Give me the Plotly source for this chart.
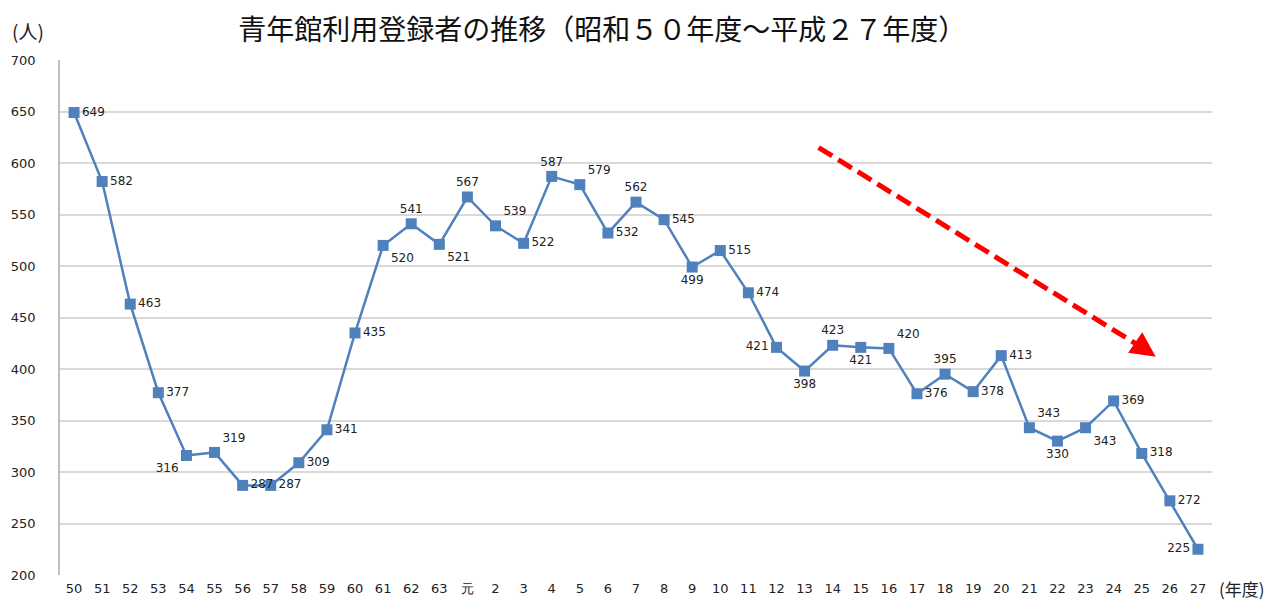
import plotly.graph_objects as go

categories = ["50", "51", "52", "53", "54", "55", "56", "57", "58", "59", "60", "61", "62", "63", "元",
              "2", "3", "4", "5", "6", "7", "8", "9", "10", "11", "12", "13", "14", "15", "16", "17",
              "18", "19", "20", "21", "22", "23", "24", "25", "26", "27"]
values = [649, 582, 463, 377, 316, 319, 287, 287, 309, 341, 435, 520, 541, 521, 567,
          539, 522, 587, 579, 532, 562, 545, 499, 515, 474, 421, 398, 423, 421, 420, 376,
          395, 378, 413, 343, 330, 343, 369, 318, 272, 225]
label_pos = ["middle right", "middle right", "middle right", "middle right", "bottom left",
             "top right", "middle right", "middle right", "middle right", "middle right",
             "middle right", "bottom right", "top center", "bottom right", "top center",
             "top right", "middle right", "top center", "top right", "middle right",
             "top center", "middle right", "bottom center", "middle right", "middle right",
             "middle left", "bottom center", "top center", "bottom center", "top right",
             "middle right", "top center", "middle right", "middle right", "top right",
             "bottom center", "bottom right", "middle right", "middle right", "middle right",
             "middle left"]
y_ticks = [200, 250, 300, 350, 400, 450, 500, 550, 600, 650, 700]

blue = "#4F81BD"

fig = go.Figure()
fig.add_trace(go.Scatter(
    x=categories, y=values, mode="lines+markers+text",
    text=[str(v) for v in values], textposition=label_pos,
    textfont=dict(family="DejaVu Sans", size=12, color="#222222"),
    line=dict(color=blue, width=2.5),
    marker=dict(symbol="square", size=11, color=blue),
    cliponaxis=False, showlegend=False,
))

# red dashed trend arrow (category index coordinates)
fig.add_shape(type="line", xref="x", yref="y", x0=26.5, y0=615, x1=38.0, y1=421,
              line=dict(color="#FF0000", width=5, dash="16px,7px"))

annotations = [
    dict(x=38.5, y=412, xref="x", yref="y", ax=-19, ay=-13, axref="pixel", ayref="pixel",
         showarrow=True, arrowhead=2, arrowsize=1, arrowwidth=5, arrowcolor="#FF0000", text=""),
    dict(text="(人)", xref="paper", yref="paper", x=-0.0434, y=1.058, xanchor="left", yanchor="middle",
         showarrow=False, font=dict(family="Noto Sans CJK JP", size=19, color="#222222")),
    dict(text="(年度)", xref="paper", yref="paper", x=1.004, y=-0.027, xanchor="left", yanchor="middle",
         showarrow=False, font=dict(family="Noto Sans CJK JP", size=17, color="#222222")),
]

# page body has an 8px margin: figure is sized/offset to compensate
fig.update_layout(
    width=1267, height=592,
    margin=dict(l=52, r=63, t=52, b=25, autoexpand=False),
    plot_bgcolor="white", paper_bgcolor="white",
    title=dict(text="青年館利用登録者の推移（昭和５０年度～平成２７年度）",
               font=dict(family="Noto Sans CJK JP", size=28, color="#111111"),
               x=0.469, xanchor="center", y=0.962, yanchor="middle"),
    xaxis=dict(type="category", range=[-0.5, 40.5], showgrid=False, showline=False, automargin=False,
               ticks="", ticklabelstandoff=4,
               tickfont=dict(family="DejaVu Sans", size=13, color="#222222")),
    yaxis=dict(range=[200, 700], tickvals=y_ticks, showgrid=True, gridcolor="#D9D9D9", gridwidth=1.5,
               showline=True, linecolor="#BFBFBF", linewidth=1.5, ticks="", zeroline=False, automargin=False,
               ticklabelstandoff=20,
               tickfont=dict(family="DejaVu Sans", size=13, color="#222222")),
    annotations=annotations,
)

fig.write_html("out.html")
